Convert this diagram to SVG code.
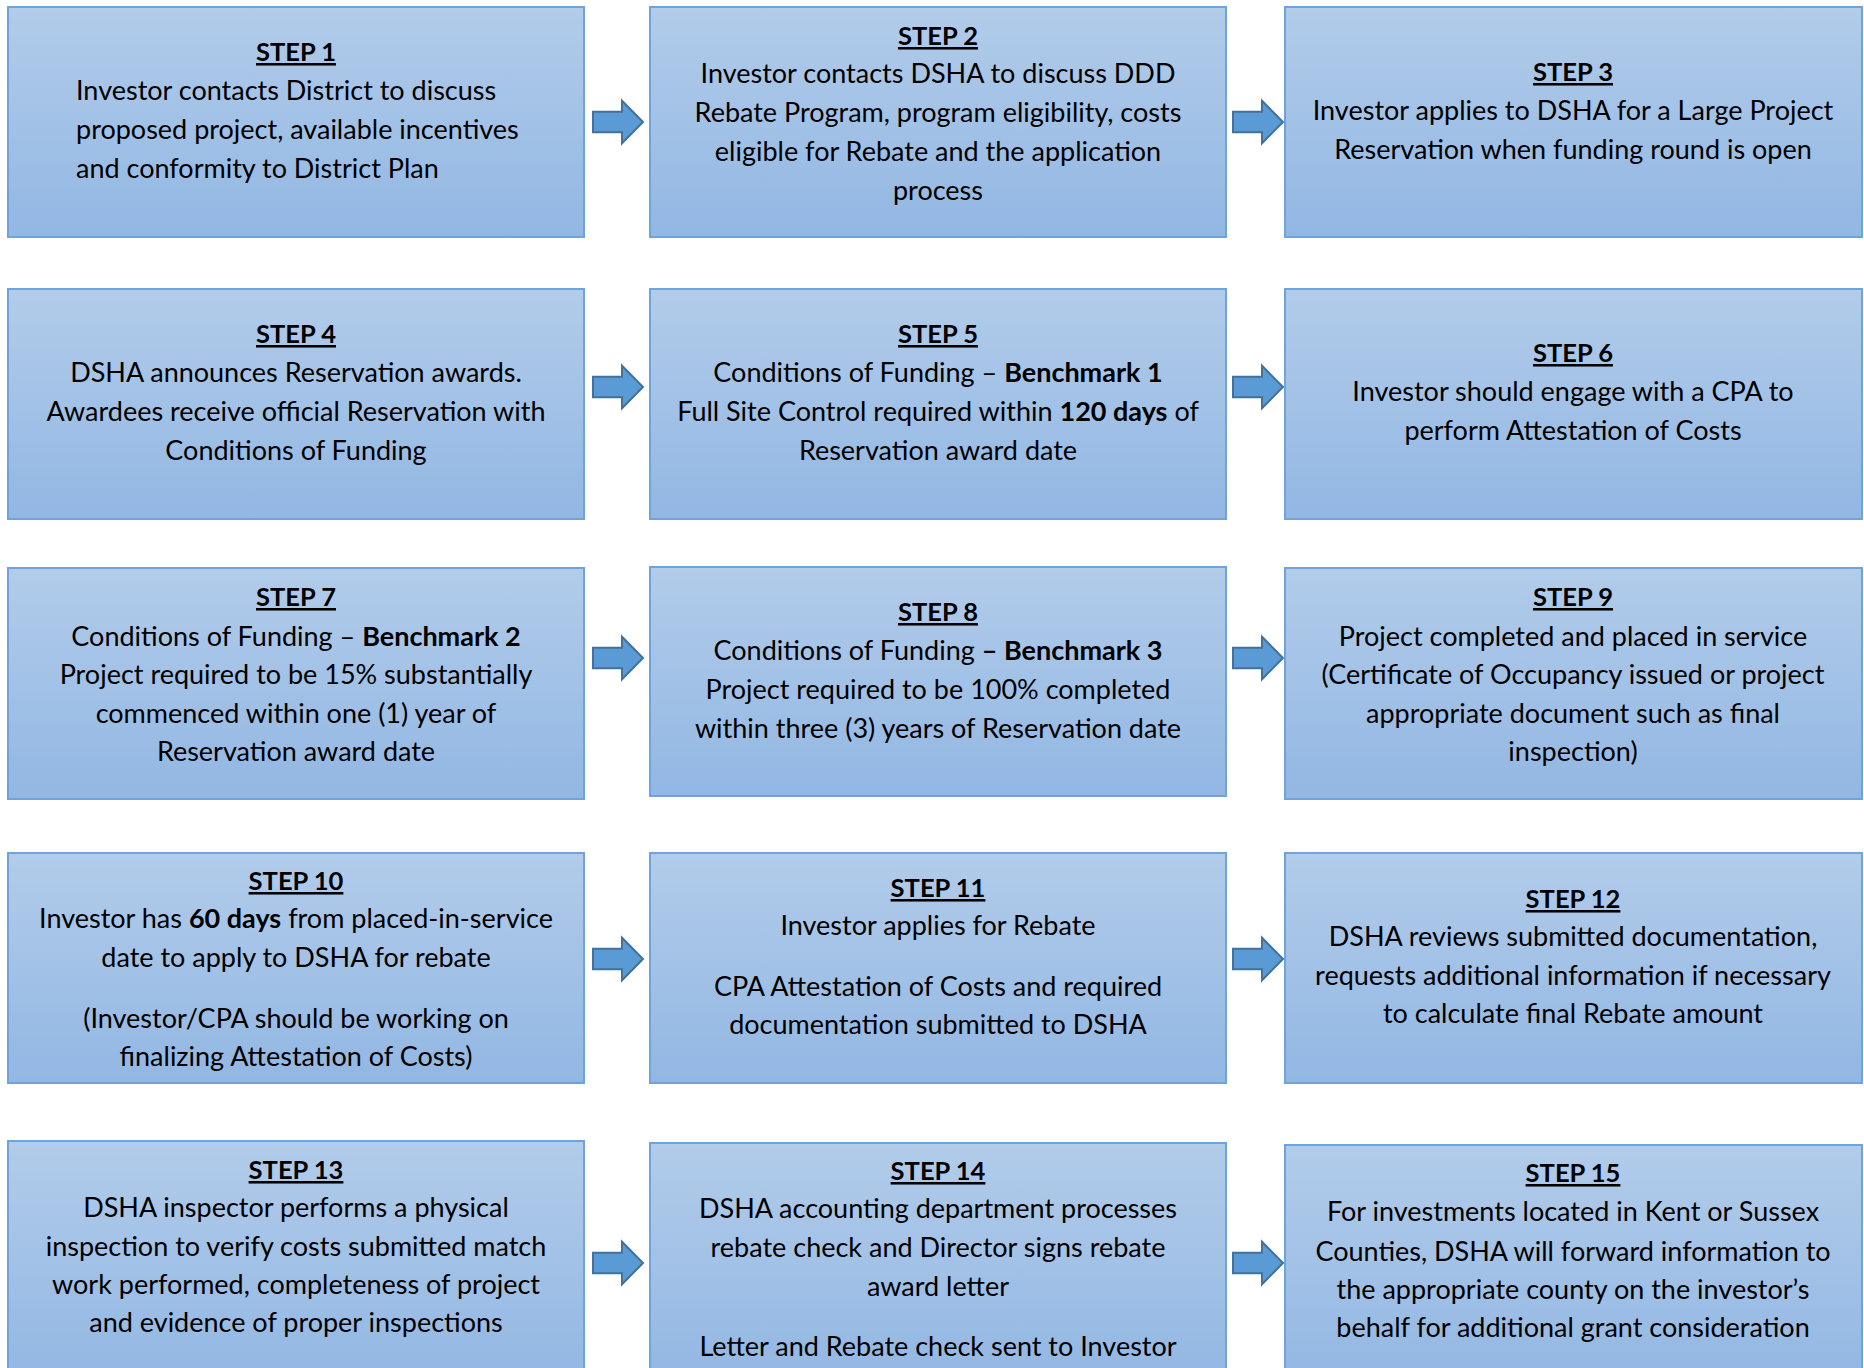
<svg xmlns="http://www.w3.org/2000/svg" width="1864" height="1368" viewBox="0 0 1864 1368">
<defs>
<linearGradient id="g" x1="0" y1="0" x2="0" y2="1">
<stop offset="0" stop-color="#B2CCEA"/>
<stop offset="1" stop-color="#92B7E3"/>
</linearGradient>
<path id="arr" d="M0,-10.3 H29 V-21.3 L50,0 L29,21.3 V10.3 H0 Z"/>
</defs>
<style>
.box{fill:url(#g);stroke:#6FA3DB;stroke-width:2}
text{font-family:Lato,"Noto Sans",sans-serif;font-size:27px;fill:#000;text-anchor:middle}
.t{font-weight:bold;text-decoration:underline;font-size:25.5px}
.b{font-weight:bold}
.l{text-anchor:start}
.arrow{fill:#5B9BD5;stroke:#41719C;stroke-width:2}
</style>
<rect width="1864" height="1368" fill="#fff"/>

<g id="connectors">
<use href="#arr" class="arrow" x="593" y="122"/>
<use href="#arr" class="arrow" x="1233" y="122"/>
<use href="#arr" class="arrow" x="593" y="387"/>
<use href="#arr" class="arrow" x="1233" y="387"/>
<use href="#arr" class="arrow" x="593" y="658"/>
<use href="#arr" class="arrow" x="1233" y="658"/>
<use href="#arr" class="arrow" x="593" y="959"/>
<use href="#arr" class="arrow" x="1233" y="959"/>
<use href="#arr" class="arrow" x="593" y="1263"/>
<use href="#arr" class="arrow" x="1233" y="1263"/>
</g>

<g id="step1">
<rect class="box" x="8" y="7" width="576" height="230"/>
<text x="296" y="61" class="t">STEP 1</text>
<text x="76" y="100" class="l">Investor contacts District to discuss</text>
<text x="76" y="139" class="l">proposed project, available incentives</text>
<text x="76" y="178" class="l">and conformity to District Plan</text>
</g>
<g id="step2">
<rect class="box" x="650" y="7" width="576" height="230"/>
<text x="938" y="45" class="t">STEP 2</text>
<text x="938" y="83">Investor contacts DSHA to discuss DDD</text>
<text x="938" y="122">Rebate Program, program eligibility, costs</text>
<text x="938" y="161">eligible for Rebate and the application</text>
<text x="938" y="200">process</text>
</g>
<g id="step3">
<rect class="box" x="1285" y="7" width="577" height="230"/>
<text x="1573" y="81" class="t">STEP 3</text>
<text x="1573" y="120">Investor applies to DSHA for a Large Project</text>
<text x="1573" y="159">Reservation when funding round is open</text>
</g>

<g id="step4">
<rect class="box" x="8" y="289" width="576" height="230"/>
<text x="296" y="343" class="t">STEP 4</text>
<text x="296" y="382">DSHA announces Reservation awards.</text>
<text x="296" y="421">Awardees receive official Reservation with</text>
<text x="296" y="460">Conditions of Funding</text>
</g>
<g id="step5">
<rect class="box" x="650" y="289" width="576" height="230"/>
<text x="938" y="343" class="t">STEP 5</text>
<text x="938" y="382">Conditions of Funding – <tspan class="b">Benchmark 1</tspan></text>
<text x="938" y="421">Full Site Control required within <tspan class="b">120 days</tspan> of</text>
<text x="938" y="460">Reservation award date</text>
</g>
<g id="step6">
<rect class="box" x="1285" y="289" width="577" height="230"/>
<text x="1573" y="362" class="t">STEP 6</text>
<text x="1573" y="401">Investor should engage with a CPA to</text>
<text x="1573" y="440">perform Attestation of Costs</text>
</g>

<g id="step7">
<rect class="box" x="8" y="568" width="576" height="231"/>
<text x="296" y="606" class="t">STEP 7</text>
<text x="296" y="646">Conditions of Funding – <tspan class="b">Benchmark 2</tspan></text>
<text x="296" y="684">Project required to be 15% substantially</text>
<text x="296" y="723">commenced within one (1) year of</text>
<text x="296" y="761">Reservation award date</text>
</g>
<g id="step8">
<rect class="box" x="650" y="567" width="576" height="229"/>
<text x="938" y="621" class="t">STEP 8</text>
<text x="938" y="660">Conditions of Funding <tspan class="b">– Benchmark 3</tspan></text>
<text x="938" y="699">Project required to be 100% completed</text>
<text x="938" y="738">within three (3) years of Reservation date</text>
</g>
<g id="step9">
<rect class="box" x="1285" y="568" width="577" height="231"/>
<text x="1573" y="606" class="t">STEP 9</text>
<text x="1573" y="646">Project completed and placed in service</text>
<text x="1573" y="684">(Certificate of Occupancy issued or project</text>
<text x="1573" y="723">appropriate document such as final</text>
<text x="1573" y="761">inspection)</text>
</g>

<g id="step10">
<rect class="box" x="8" y="853" width="576" height="230"/>
<text x="296" y="890" class="t">STEP 10</text>
<text x="296" y="928">Investor has <tspan class="b">60 days</tspan> from placed-in-service</text>
<text x="296" y="967">date to apply to DSHA for rebate</text>
<text x="296" y="1028">(Investor/CPA should be working on</text>
<text x="296" y="1066">finalizing Attestation of Costs)</text>
</g>
<g id="step11">
<rect class="box" x="650" y="853" width="576" height="230"/>
<text x="938" y="897" class="t">STEP 11</text>
<text x="938" y="935">Investor applies for Rebate</text>
<text x="938" y="996">CPA Attestation of Costs and required</text>
<text x="938" y="1034">documentation submitted to DSHA</text>
</g>
<g id="step12">
<rect class="box" x="1285" y="853" width="577" height="230"/>
<text x="1573" y="908" class="t">STEP 12</text>
<text x="1573" y="946">DSHA reviews submitted documentation,</text>
<text x="1573" y="985">requests additional information if necessary</text>
<text x="1573" y="1023">to calculate final Rebate amount</text>
</g>

<g id="step13">
<rect class="box" x="8" y="1141" width="576" height="240"/>
<text x="296" y="1179" class="t">STEP 13</text>
<text x="296" y="1217">DSHA inspector performs a physical</text>
<text x="296" y="1256">inspection to verify costs submitted match</text>
<text x="296" y="1294">work performed, completeness of project</text>
<text x="296" y="1332">and evidence of proper inspections</text>
</g>
<g id="step14">
<rect class="box" x="650" y="1143" width="576" height="240"/>
<text x="938" y="1180" class="t">STEP 14</text>
<text x="938" y="1218">DSHA accounting department processes</text>
<text x="938" y="1257">rebate check and Director signs rebate</text>
<text x="938" y="1296">award letter</text>
<text x="938" y="1356">Letter and Rebate check sent to Investor</text>
</g>
<g id="step15">
<rect class="box" x="1285" y="1145" width="577" height="240"/>
<text x="1573" y="1182" class="t">STEP 15</text>
<text x="1573" y="1221">For investments located in Kent or Sussex</text>
<text x="1573" y="1261">Counties, DSHA will forward information to</text>
<text x="1573" y="1299">the appropriate county on the investor’s</text>
<text x="1573" y="1337">behalf for additional grant consideration</text>
</g>
</svg>
